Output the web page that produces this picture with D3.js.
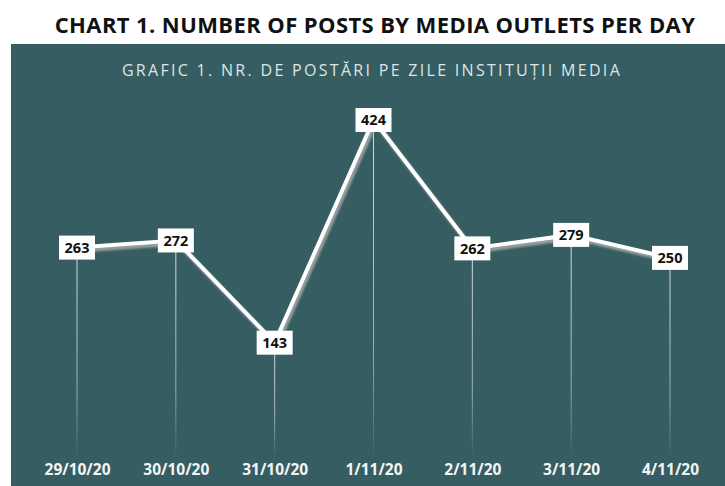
<!DOCTYPE html>
<html>
<head>
<meta charset="utf-8">
<script src="https://cdn.jsdelivr.net/npm/d3@7"></script>
<style>
  html, body { margin: 0; padding: 0; background: #ffffff; }
  svg { display: block; }
</style>
</head>
<body>
<svg id="chart" width="725" height="486"></svg>
<script>
// Daily post counts for media outlets
const days = ["29/10/20", "30/10/20", "31/10/20", "1/11/20", "2/11/20", "3/11/20", "4/11/20"];
const posts = [263, 272, 143, 424, 262, 279, 250];

const W = 725, H = 486;
const svg = d3.select("#chart");

const defs = svg.append("defs");
const fade = defs.append("linearGradient")
  .attr("id", "dropFade").attr("x1", 0).attr("y1", 0).attr("x2", 0).attr("y2", 1);
fade.append("stop").attr("offset", "0%").attr("stop-color", "#e6eeee").attr("stop-opacity", 0.9);
fade.append("stop").attr("offset", "70%").attr("stop-color", "#e6eeee").attr("stop-opacity", 0.55);
fade.append("stop").attr("offset", "100%").attr("stop-color", "#e6eeee").attr("stop-opacity", 0.05);

const blur = defs.append("filter").attr("id", "soft").attr("x", "-10%").attr("y", "-10%").attr("width", "120%").attr("height", "120%");
blur.append("feGaussianBlur").attr("stdDeviation", 1.2);

// Outer title
svg.append("text")
  .attr("x", 375).attr("y", 33)
  .attr("text-anchor", "middle")
  .attr("font-family", "'Open Sans', sans-serif")
  .attr("font-weight", 700)
  .attr("font-size", 22)
  .attr("letter-spacing", 0.4)
  .attr("fill", "#111")
  .text("CHART 1. NUMBER OF POSTS BY MEDIA OUTLETS PER DAY");

// Panel
svg.append("rect")
  .attr("x", 11).attr("y", 44).attr("width", W - 11).attr("height", H - 44)
  .attr("fill", "#365d61");

svg.append("text")
  .attr("x", 372).attr("y", 76)
  .attr("text-anchor", "middle")
  .attr("font-family", "'Open Sans', sans-serif")
  .attr("font-size", 16)
  .attr("letter-spacing", 2.3)
  .attr("fill", "#dde6e6")
  .text("GRAFIC 1. NR. DE POSTĂRI PE ZILE INSTITUȚII MEDIA");

// Scales
const x = d3.scalePoint().domain(days).range([77, 670]);
const y = d3.scaleLinear().domain([0, 424]).range([456, 120]);

const data = days.map((d, i) => ({ day: d, v: posts[i] }));

// Drop lines
svg.append("g").selectAll("rect").data(data).join("rect")
  .attr("x", d => x(d.day) - 0.5)
  .attr("y", d => y(d.v))
  .attr("width", 1)
  .attr("height", d => 454 - y(d.v))
  .attr("fill", "url(#dropFade)");

// Line with shadow
const line = d3.line().x(d => x(d.day)).y(d => y(d.v));
svg.append("path").datum(data)
  .attr("d", line)
  .attr("transform", "translate(2,3)")
  .attr("fill", "none")
  .attr("stroke", "#9aa3a3")
  .attr("stroke-width", 4)
  .attr("stroke-linejoin", "round")
  .attr("filter", "url(#soft)");
svg.append("path").datum(data)
  .attr("d", line)
  .attr("fill", "none")
  .attr("stroke", "#ffffff")
  .attr("stroke-width", 4)
  .attr("stroke-linejoin", "miter");

// Value labels
const lab = svg.append("g").selectAll("g").data(data).join("g")
  .attr("transform", d => `translate(${x(d.day)},${y(d.v)})`);
lab.append("rect")
  .attr("x", -18).attr("y", -12).attr("width", 36).attr("height", 24)
  .attr("fill", "#ffffff");
lab.append("text")
  .attr("text-anchor", "middle")
  .attr("dy", "0.36em")
  .attr("font-family", "'Open Sans', sans-serif")
  .attr("font-weight", 700)
  .attr("font-size", 14.5)
  .attr("fill", "#111")
  .text(d => d.v);

// Category axis labels
const axis = d3.axisBottom(x).tickSize(0).tickPadding(0);
const ax = svg.append("g").attr("transform", "translate(0,464)").call(axis);
ax.select(".domain").remove();
ax.selectAll("text")
  .attr("font-family", "'Open Sans', sans-serif")
  .attr("font-weight", 700)
  .attr("font-size", 15.5)
  .attr("fill", "#f2f5f5");
</script>
</body>
</html>
